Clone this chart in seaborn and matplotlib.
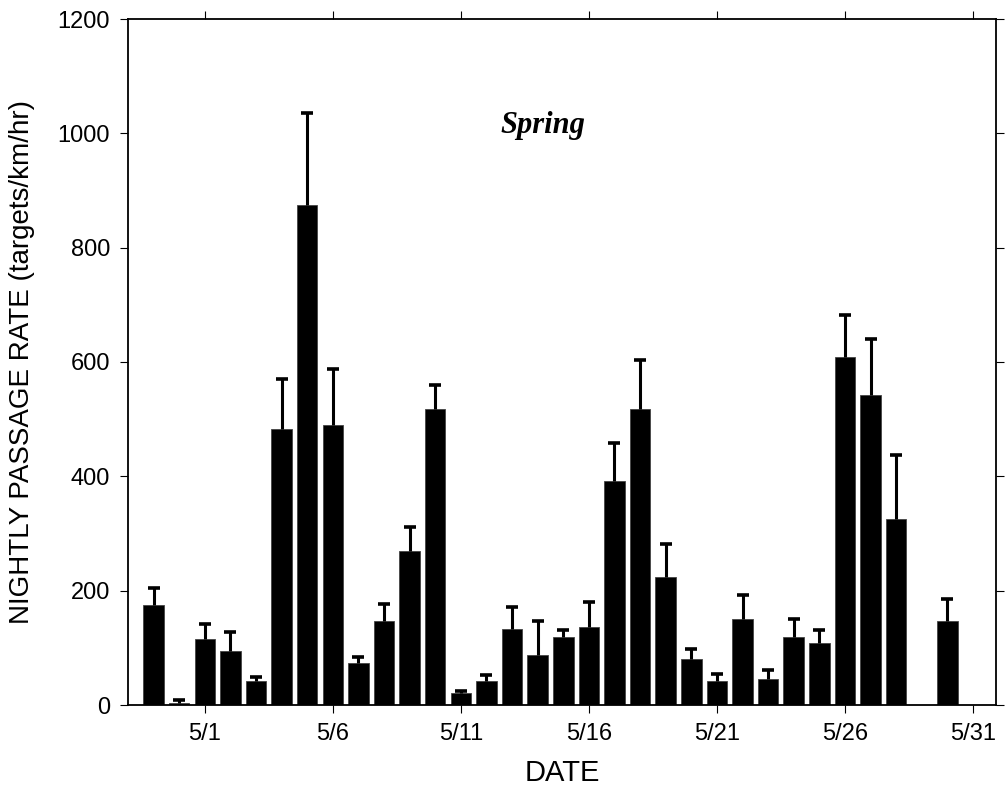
import matplotlib
matplotlib.use("Agg")
import matplotlib.pyplot as plt
import seaborn as sns
import pandas as pd
import numpy as np
from matplotlib import font_manager

# ---- data ----
dates = ["4/29", "4/30", "5/1", "5/2", "5/3", "5/4", "5/5", "5/6", "5/7", "5/8",
         "5/9", "5/10", "5/11", "5/12", "5/13", "5/14", "5/15", "5/16", "5/17",
         "5/18", "5/19", "5/20", "5/21", "5/22", "5/23", "5/24", "5/25", "5/26",
         "5/27", "5/28", "5/30"]
rates = [175, 4, 115, 95, 42, 483, 875, 490, 74, 147,
         269, 518, 21, 42, 133, 87, 119, 136, 392,
         518, 224, 80, 42, 150, 46, 119, 108, 609,
         542, 325, 147]
errors = [29, 4, 27, 33, 7, 87, 160, 98, 10, 30,
          43, 42, 4, 10, 38, 60, 13, 45, 66,
          86, 58, 18, 13, 43, 15, 31, 24, 73,
          98, 112, 39]
tick_labels = ["5/1", "5/6", "5/11", "5/16", "5/21", "5/26", "5/31"]
y_ticks = [0, 200, 400, 600, 800, 1000, 1200]


def day_offset(s):
    m, d = s.split("/")
    m, d = int(m), int(d)
    return d - 1 if m == 5 else d - 31  # days relative to 5/1 (April has 30 days)


df = pd.DataFrame({"date": dates, "rate": rates, "err": errors})
df["day"] = [day_offset(s) for s in dates]

sns.set_theme(style="white")
plt.rcParams["font.family"] = ["Liberation Sans", "DejaVu Sans"]

names = {f.name for f in font_manager.fontManager.ttflist}
narrow = "Liberation Sans Narrow" if "Liberation Sans Narrow" in names else "Liberation Sans"

fig = plt.figure(figsize=(10.06, 7.93), dpi=100)
ax = fig.add_axes([128 / 1006, 88 / 793, 868 / 1006, 686 / 793])

sns.barplot(data=df, x="day", y="rate", native_scale=True, errorbar=None,
            color="black", saturation=1, width=0.8, edgecolor="#444444",
            linewidth=0.6, ax=ax)
eb = ax.errorbar(df["day"], df["rate"], yerr=[np.zeros(len(df)), df["err"]],
                 fmt="none", ecolor="black", elinewidth=2.2, capsize=4.3,
                 capthick=2.6, zorder=3)
# hide the lower caps (they would sit on the bar tops)
caplines = eb[1]
if len(caplines) >= 2:
    caplines[0].set_visible(False)

ax.set_xlim(-3, 30.9)
ax.set_ylim(0, 1200)
tick_pos = [day_offset(t) for t in tick_labels]
ax.set_xticks(tick_pos)
ax.set_xticklabels(tick_labels, fontsize=17, family=narrow)
ax.set_yticks(y_ticks)
ax.set_yticklabels([str(v) for v in y_ticks], fontsize=17)

ax.tick_params(axis="x", which="both", direction="out", length=6, width=0.8,
               bottom=True, top=True, labelbottom=True, labeltop=False,
               pad=7, color="black", labelcolor="black")
ax.tick_params(axis="y", which="both", direction="out", length=6, width=0.8,
               left=True, right=True, labelleft=True, labelright=False,
               pad=7, color="black", labelcolor="black")

for sp in ax.spines.values():
    sp.set_visible(True)
    sp.set_color("black")
    sp.set_linewidth(1.3)

ax.set_xlabel("DATE", fontsize=21, family=narrow, labelpad=10, color="black")
ax.set_ylabel("NIGHTLY PASSAGE RATE (targets/km/hr)", fontsize=20,
              labelpad=16, color="black")

ax.text(13.2, 1000, "Spring", fontsize=22, fontweight="bold", fontstyle="italic",
        family="Liberation Serif", ha="center", va="baseline", color="black")

ax.grid(False)
fig.savefig("out.png", dpi=100, facecolor="white")
